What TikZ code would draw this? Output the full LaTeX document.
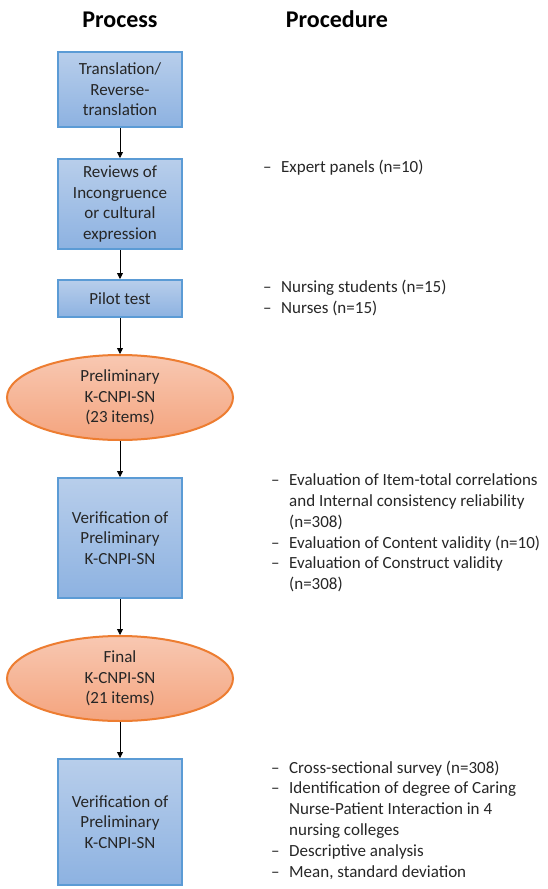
\documentclass[tikz,border=0pt]{standalone}
\usepackage{fontspec}
\setmainfont{Carlito}
\usetikzlibrary{arrows.meta,shapes.geometric,positioning}
\definecolor{boxtop}{RGB}{184,206,235}
\definecolor{boxbot}{RGB}{141,178,225}
\definecolor{boxline}{RGB}{91,155,213}
\definecolor{elltop}{RGB}{248,200,178}
\definecolor{ellbot}{RGB}{244,164,126}
\definecolor{ellline}{RGB}{237,125,49}
\definecolor{inktext}{RGB}{38,38,38}
\newcommand{\itm}{\makebox[18pt][l]{--}}
\newcommand{\cnt}{\hspace*{18pt}}

\begin{document}
\begin{tikzpicture}[
    x=1pt, y=-1pt,
    box/.style  = {rectangle, draw=boxline, line width=2pt, top color=boxtop,
                   bottom color=boxbot, minimum width=124pt, inner sep=0pt,
                   align=center, font=\fontsize{17}{20.5}\selectfont\color{inktext}},
    ell/.style  = {ellipse, draw=ellline, line width=2pt, top color=elltop,
                   bottom color=ellbot, minimum width=226pt, minimum height=85pt,
                   inner sep=0pt, align=center,
                   font=\fontsize{17}{20.5}\selectfont\color{inktext}},
    note/.style = {anchor=west, align=left, inner sep=0pt,
                   font=\fontsize{17}{20.8}\selectfont\color{inktext}},
    head/.style = {anchor=base, font=\fontsize{24}{28}\selectfont\bfseries},
    arr/.style  = {-{Triangle[length=6pt,width=6pt]}, line width=0.8pt}
  ]
    \useasboundingbox (0,0) rectangle (548,889);

    \node[head] (hproc) at (120,27) {Process};
    \node[head] (hproced) at (337,27) {Procedure};

    \node[box, minimum height=75pt] (trans) at (120,89.5) {Translation/\\Reverse-\\translation};
    \node[box, minimum height=90pt, below=30pt of trans] (review) {Reviews of\\Incongruence\\or cultural\\expression};
    \node[box, minimum height=37pt, below=29pt of review] (pilot) {Pilot test};
    \node[ell, below=36pt of pilot] (prelim) {Preliminary\\K-CNPI-SN\\(23 items)};
    \node[box, minimum height=120pt, below=36pt of prelim] (verif) {Verification of\\Preliminary\\K-CNPI-SN};
    \node[ell, below=36pt of verif] (final) {Final\\K-CNPI-SN\\(21 items)};
    \node[box, minimum height=126pt, below=36pt of final] (survey) {Verification of\\Preliminary\\K-CNPI-SN};

    \draw[arr] (trans)  -- (review);
    \draw[arr] (review) -- (pilot);
    \draw[arr] (pilot)  -- (prelim);
    \draw[arr] (prelim) -- (verif);
    \draw[arr] (verif)  -- (final);
    \draw[arr] (final)  -- (survey);

    \node[note] (nreview) at (263,168) {\itm Expert panels (n=10)};
    \node[note] (npilot)  at (263,298) {\itm Nursing students (n=15)\\\itm Nurses (n=15)};
    \node[note] (nverif)  at (271,533) {\itm Evaluation of Item-total correlations\\
      \cnt and Internal consistency reliability\\\cnt (n=308)\\
      \itm Evaluation of Content validity (n=10)\\
      \itm Evaluation of Construct validity\\\cnt (n=308)};
    \node[note] (nsurvey) at (271,820) {\itm Cross-sectional survey (n=308)\\
      \itm Identification of degree of Caring\\
      \cnt Nurse-Patient Interaction in 4\\\cnt nursing colleges\\
      \itm Descriptive analysis\\\itm Mean, standard deviation};
  \end{tikzpicture}
\end{document}
